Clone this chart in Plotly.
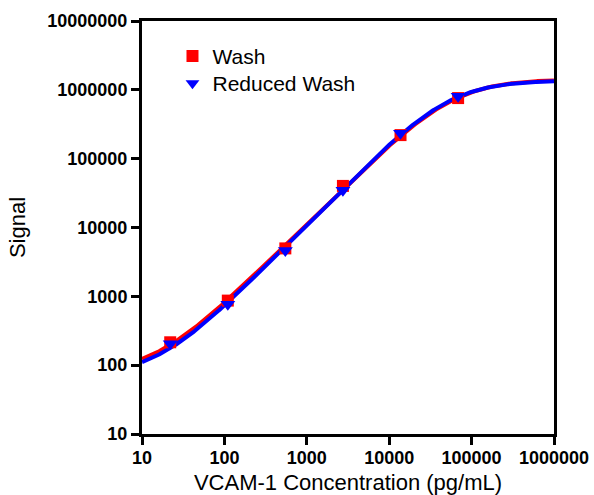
import numpy as np
import plotly.graph_objects as go

# VCAM-1 standard curve: concentrations (pg/mL) and measured signal
concentration = [22, 110, 549, 2744, 13720, 68600]
wash_signal = [215, 867, 4970, 40200, 220000, 759000]
reduced_wash_signal = [205, 766, 4645, 34900, 234000, 805000]

# Four-parameter logistic fit parameters (bottom, top, EC50, Hill slope)
wash_fit = dict(bottom=75, top=1.42e6, ec50=59300, hill=1.185)
reduced_fit = dict(bottom=70, top=1.37e6, ec50=53260, hill=1.2145)

x_tickvals = [10, 100, 1000, 10000, 100000, 1000000]
y_tickvals = [10, 100, 1000, 10000, 100000, 1000000, 10000000]

RED = "#ff0000"
BLUE = "#0000ff"
FONT = "Liberation Sans, Arial, sans-serif"


def four_pl(x, bottom, top, ec50, hill):
    x = np.asarray(x, dtype=float)
    return top + (bottom - top) / (1.0 + (x / ec50) ** hill)


x_curve = np.logspace(1, 6, 400)

fig = go.Figure()

fig.add_trace(go.Scatter(
    x=x_curve, y=four_pl(x_curve, **wash_fit), mode="lines",
    line=dict(color=RED, width=4), showlegend=False, hoverinfo="skip"))
fig.add_trace(go.Scatter(
    x=x_curve, y=four_pl(x_curve, **reduced_fit), mode="lines",
    line=dict(color=BLUE, width=4), showlegend=False, hoverinfo="skip"))

fig.add_trace(go.Scatter(
    x=concentration, y=wash_signal, mode="markers", name="Wash",
    marker=dict(symbol="square", size=12, color=RED), legend="legend"))
fig.add_trace(go.Scatter(
    x=concentration, y=reduced_wash_signal, mode="markers", name="Reduced Wash",
    marker=dict(symbol="triangle-down", size=13, color=BLUE), legend="legend2"))

axis_common = dict(
    type="log", showgrid=False, zeroline=False, automargin=False,
    showline=True, linecolor="black", linewidth=3, mirror=True,
    ticks="outside", ticklen=8, tickwidth=2.5, tickcolor="black",
    tickfont=dict(family=FONT, size=18, color="black", weight="bold"),
    tickformat="d",
)

fig.update_xaxes(
    **axis_common,
    range=[1, 6], tickvals=x_tickvals,
    ticktext=[str(v) for v in x_tickvals],
    ticklabelstandoff=-3,
    title=dict(text="VCAM-1 Concentration (pg/mL)",
               font=dict(family=FONT, size=22, color="black"), standoff=11),
)
fig.update_yaxes(
    **axis_common,
    range=[1, 7], tickvals=y_tickvals,
    ticktext=[str(v) for v in y_tickvals],
    title=dict(text="Signal", font=dict(family=FONT, size=22, color="black"),
               standoff=16),
)

legend_style = dict(xanchor="left", yanchor="top",
                    bgcolor="rgba(0,0,0,0)", borderwidth=0,
                    font=dict(family=FONT, size=21, color="black"),
                    itemsizing="constant")

fig.update_layout(
    width=594, height=495,
    margin=dict(l=142, r=40, t=21, b=61),
    paper_bgcolor="white", plot_bgcolor="white",
    font=dict(family=FONT, color="black"),
    legend=dict(x=0.074, y=0.964, **legend_style),
    legend2=dict(x=0.074, y=0.898, **legend_style),
)

fig.write_html("out.html")
